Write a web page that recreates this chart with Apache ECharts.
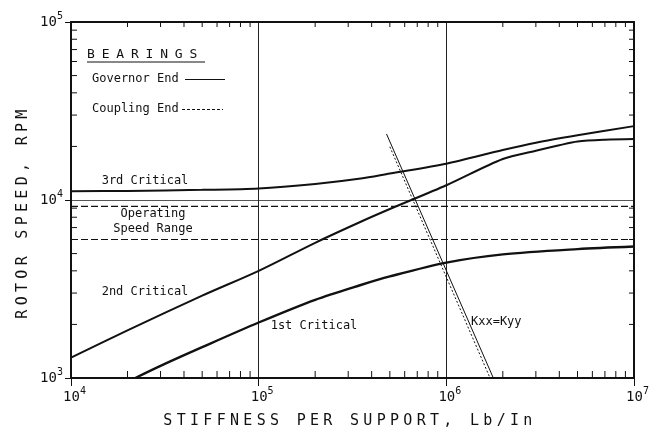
<!DOCTYPE html>
<html>
<head>
<meta charset="utf-8">
<script src="https://cdn.jsdelivr.net/npm/echarts@6/dist/echarts.min.js"></script>
<style>
  html, body { margin: 0; padding: 0; background: #fff; }
  #chart { width: 659px; height: 436px; }
</style>
</head>
<body>
<div id="chart"></div>
<script>
// Rotor critical speed map: critical speeds vs. bearing stiffness (log-log)

// 1st critical
const k1st = [2.2e4, 3e4, 5e4, 1e5, 2e5, 3.5e5, 5e5, 1e6, 2e6, 5e6, 1e7];
const rpm1st = [1000, 1170, 1490, 2050, 2750, 3330, 3720, 4450, 4950, 5300, 5480];

// 2nd critical
const k2nd = [1e4, 2e4, 5e4, 1e5, 2e5, 3.5e5, 5e5, 1e6, 2e6, 3e6, 4e6, 5e6, 7e6, 1e7];
const rpm2nd = [1300, 1850, 2900, 4000, 5750, 7550, 8900, 12100, 17000, 18900, 20300, 21300, 21800, 22000];

// 3rd critical
const k3rd = [1e4, 2e4, 5e4, 1e5, 2e5, 3.5e5, 5e5, 1e6, 2e6, 3e6, 5e6, 1e7];
const rpm3rd = [11200, 11250, 11400, 11600, 12300, 13200, 14100, 16000, 19100, 21000, 23100, 26000];

// Bearing stiffness lines Kxx = Kyy
const kBearingGov = [4.8e5, 1.78e6];
const rpmBearingGov = [23500, 1000];
const kBearingCoup = [5.0e5, 1.71e6];
const rpmBearingCoup = [19900, 1000];

// Operating speed range limits
const speedRange = [6000, 9200];

// Axis extents and minor tick multipliers
const kExtent = [1e4, 1e7];
const rpmExtent = [1e3, 1e5];
const minorMultipliers = [2, 3, 4, 5, 6, 7, 8, 9];
const kDecades = [1e4, 1e5, 1e6];
const rpmDecades = [1e3, 1e4];

const FONT = 'DejaVu Sans Mono';
const INK = '#111';

// Plotter-style wide letter spacing for a few headings only
const letterSpacingByText = {
  'ROTOR SPEED, RPM': '4.3px',
  'STIFFNESS PER SUPPORT, Lb/In': '4.3px',
  'BEARINGS': '6.8px'
};
const baseFillText = CanvasRenderingContext2D.prototype.fillText;
CanvasRenderingContext2D.prototype.fillText = function (text, x, y, maxWidth) {
  const ctx = this;
  const draw = () => (maxWidth === undefined
    ? baseFillText.call(ctx, text, x, y)
    : baseFillText.call(ctx, text, x, y, maxWidth));
  const spacing = letterSpacingByText[text];
  if (!spacing || !('letterSpacing' in ctx)) {
    if ('letterSpacing' in ctx && ctx.letterSpacing !== '0px') {
      const f = ctx.font;
      ctx.letterSpacing = '0px';
      ctx.font = f;
    }
    draw();
    return;
  }
  const font = ctx.font;
  ctx.save();
  ctx.letterSpacing = spacing;
  ctx.font = font;
  draw();
  ctx.restore();
  ctx.letterSpacing = '0px';
  ctx.font = font;
};

const zip = (xs, ys) => xs.map((x, i) => [x, ys[i]]);

// Minor ticks on all four sides: [k, rpm, side] side 0=bottom 1=top 2=left 3=right
const minorTicks = [];
kDecades.forEach(d => minorMultipliers.forEach(m => {
  minorTicks.push([d * m, rpmExtent[0], 0]);
  minorTicks.push([d * m, rpmExtent[0], 1]);
}));
rpmDecades.forEach(d => minorMultipliers.forEach(m => {
  minorTicks.push([kExtent[0], d * m, 2]);
  minorTicks.push([kExtent[0], d * m, 3]);
}));

const powLabel = (v) => Math.round(Math.log10(v));

const chart = echarts.init(document.getElementById('chart'), null, { renderer: 'canvas' });

const curveStyle = (w) => ({ color: INK, width: w });

const label = (text, x, y, align, size) => ({
  type: 'text', x, y,
  style: {
    text, font: (size || 12) + 'px "' + FONT + '"', fill: INK,
    textAlign: align, textVerticalAlign: 'middle', align, verticalAlign: 'middle'
  }
});

chart.setOption({
  animation: false,
  backgroundColor: '#fff',
  grid: { left: 71, right: 25, top: 22, bottom: 58 },
  xAxis: [
    {
      type: 'log', logBase: 10, min: kExtent[0], max: kExtent[1], position: 'bottom',
      axisLine: { show: true, lineStyle: { color: INK, width: 2 } },
      axisTick: { show: true, inside: false, length: 8, lineStyle: { color: INK, width: 1 } },
      splitLine: { show: true, lineStyle: { color: '#222', width: 1 } },
      axisLabel: {
        margin: 8, showMinLabel: true, showMaxLabel: true,
        formatter: v => '{p| }{b|10}{e|' + powLabel(v) + '}',
        rich: {
          p: { width: 7, fontSize: 10, fontFamily: FONT },
          b: { fontSize: 14, fontFamily: FONT, color: INK, lineHeight: 22 },
          e: { fontSize: 10, fontFamily: FONT, color: INK, lineHeight: 8, verticalAlign: 'top' }
        }
      }
    },
    {
      type: 'log', logBase: 10, min: kExtent[0], max: kExtent[1], position: 'top',
      axisLine: { show: true, lineStyle: { color: INK, width: 2 } },
      axisTick: { show: false }, axisLabel: { show: false }, splitLine: { show: false }
    }
  ],
  yAxis: [
    {
      type: 'log', logBase: 10, min: rpmExtent[0], max: rpmExtent[1], position: 'left',
      axisLine: { show: true, lineStyle: { color: INK, width: 2 } },
      axisTick: { show: true, inside: false, length: 6, lineStyle: { color: INK, width: 1 } },
      splitLine: { show: true, lineStyle: { color: '#555', width: 1 } },
      axisLabel: {
        margin: 8, showMinLabel: true, showMaxLabel: true,
        formatter: v => '{b|10}{e|' + powLabel(v) + '}',
        rich: {
          b: { fontSize: 14, fontFamily: FONT, color: INK, lineHeight: 22 },
          e: { fontSize: 10, fontFamily: FONT, color: INK, lineHeight: 8, verticalAlign: 'top' }
        }
      }
    },
    {
      type: 'log', logBase: 10, min: rpmExtent[0], max: rpmExtent[1], position: 'right',
      axisLine: { show: true, lineStyle: { color: INK, width: 2 } },
      axisTick: { show: false }, axisLabel: { show: false }, splitLine: { show: false }
    }
  ],
  series: [
    {
      name: 'Minor ticks', type: 'custom', silent: true, clip: false,
      dimensions: ['k', 'rpm', 'side'], encode: { x: 'k', y: 'rpm' },
      data: minorTicks,
      renderItem: (params, api) => {
        const cs = params.coordSys;
        const side = api.value(2);
        const p = api.coord([api.value(0), api.value(1)]);
        let shape;
        if (side === 0) shape = { x1: p[0], y1: cs.y + cs.height, x2: p[0], y2: cs.y + cs.height - 7 };
        else if (side === 1) shape = { x1: p[0], y1: cs.y, x2: p[0], y2: cs.y + 5 };
        else if (side === 2) shape = { x1: cs.x, y1: p[1], x2: cs.x + 6, y2: p[1] };
        else shape = { x1: cs.x + cs.width, y1: p[1], x2: cs.x + cs.width - 5, y2: p[1] };
        return { type: 'line', shape, style: { stroke: INK, lineWidth: 1 } };
      }
    },
    {
      name: 'Operating speed min', type: 'line', showSymbol: false, silent: true,
      data: [[kExtent[0], speedRange[0]], [kExtent[1], speedRange[0]]],
      lineStyle: { color: INK, width: 1.2, type: [7, 3] }
    },
    {
      name: 'Operating speed max', type: 'line', showSymbol: false, silent: true,
      data: [[kExtent[0], speedRange[1]], [kExtent[1], speedRange[1]]],
      lineStyle: { color: INK, width: 1.2, type: [7, 3] }
    },
    {
      name: '3rd Critical', type: 'line', showSymbol: false, smooth: 0.3,
      data: zip(k3rd, rpm3rd), lineStyle: curveStyle(2)
    },
    {
      name: '2nd Critical', type: 'line', showSymbol: false, smooth: 0.3,
      data: zip(k2nd, rpm2nd), lineStyle: curveStyle(2)
    },
    {
      name: '1st Critical', type: 'line', showSymbol: false, smooth: 0.3,
      data: zip(k1st, rpm1st), lineStyle: curveStyle(2.4)
    },
    {
      name: 'Kxx=Kyy Governor End', type: 'line', showSymbol: false,
      data: zip(kBearingGov, rpmBearingGov), lineStyle: { color: INK, width: 1 }
    },
    {
      name: 'Kxx=Kyy Coupling End', type: 'line', showSymbol: false,
      data: zip(kBearingCoup, rpmBearingCoup), lineStyle: { color: INK, width: 1, type: [2, 2] }
    }
  ],
  graphic: [
    // axis titles
    Object.assign(label('ROTOR SPEED, RPM', 23, 212, 'center', 15), { rotation: Math.PI / 2 }),
    label('STIFFNESS PER SUPPORT, Lb/In', 350, 421, 'center', 15),
    // bearing key
    label('BEARINGS', 87, 55, 'left', 13),
    { type: 'line', shape: { x1: 87, y1: 62, x2: 205, y2: 62 }, style: { stroke: INK, lineWidth: 1 } },
    label('Governor End', 92, 79, 'left'),
    { type: 'line', shape: { x1: 185, y1: 79.5, x2: 225, y2: 79.5 }, style: { stroke: INK, lineWidth: 1 } },
    label('Coupling End', 92, 109, 'left'),
    { type: 'line', shape: { x1: 182, y1: 109.5, x2: 223, y2: 109.5 }, style: { stroke: INK, lineWidth: 1, lineDash: [3, 2] } },
    // curve annotations
    label('3rd Critical', 145, 181, 'center'),
    label('Operating', 153, 214, 'center'),
    label('Speed Range', 153, 229, 'center'),
    label('2nd Critical', 145, 292, 'center'),
    label('1st Critical', 314, 326, 'center'),
    label('Kxx=Kyy', 471, 322, 'left')
  ]
});
</script>
</body>
</html>
